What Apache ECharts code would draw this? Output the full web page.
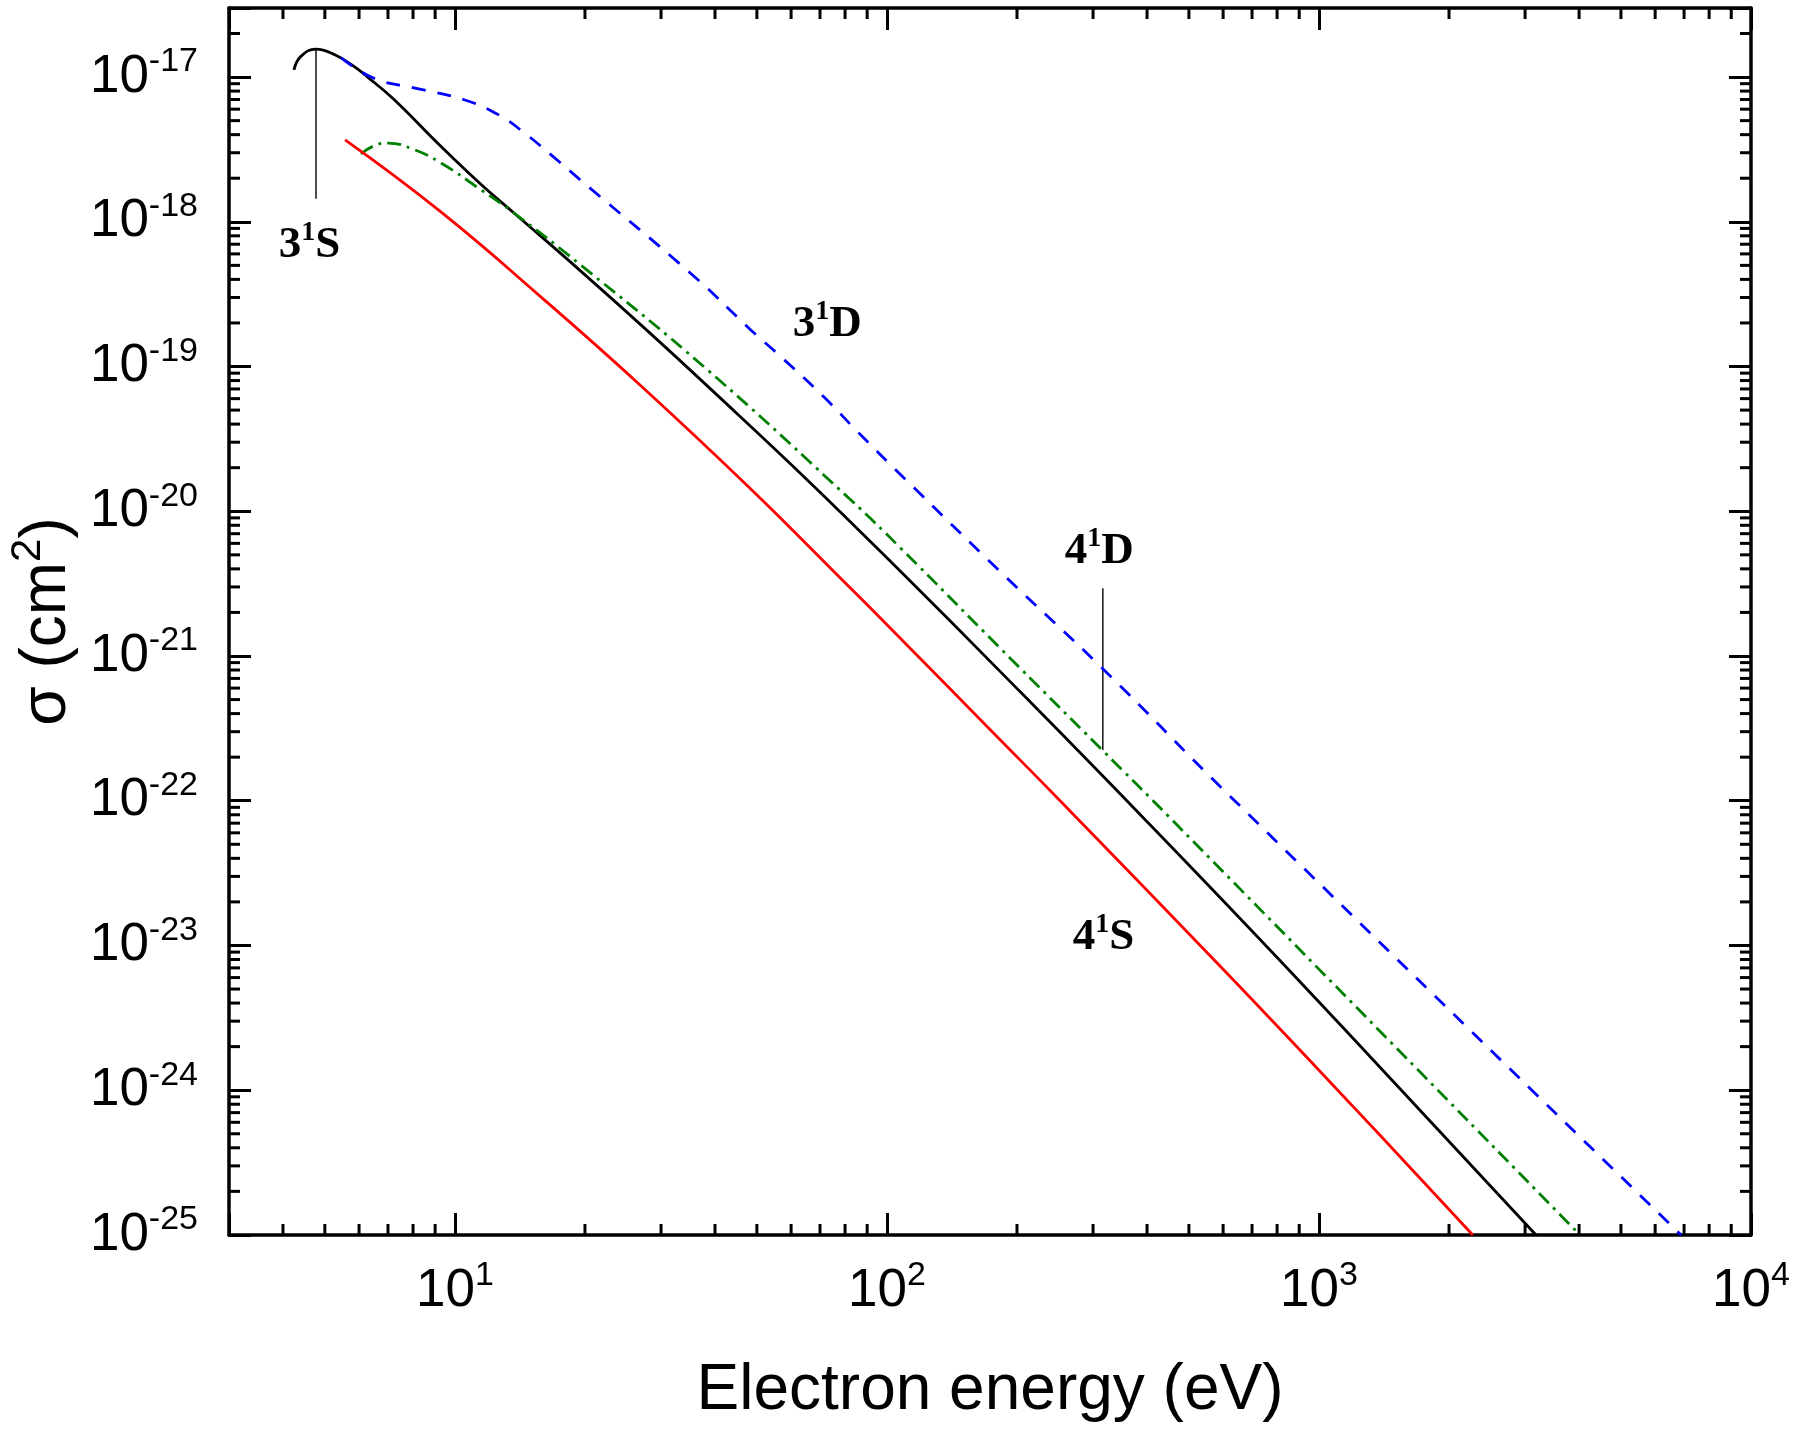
<!DOCTYPE html>
<html><head><meta charset="utf-8">
<script src="https://cdn.jsdelivr.net/npm/echarts@6/dist/echarts.min.js"></script>
<style>html,body{margin:0;padding:0;background:#fff}#c{width:1796px;height:1433px}</style>
</head><body><div id="c"></div>
<script>
// ---- axis ranges & ticks ----
const xRange = [3, 10000];
const yRange = [9.99e-26, 3e-17];
const xMinorMultipliers = [2, 3, 4, 5, 6, 7, 8, 9];
const xDecades = [0, 1, 2, 3];
const yDecades = [-25, -24, -23, -22, -21, -20, -19, -18, -17];

// ---- series data (electron energy in eV, cross section in cm^2) ----
const e31S = [4.24, 4.40, 4.77, 5.26, 5.85, 6.28, 7.24, 9.28, 11.5, 13.7, 19.5, 28, 39.1, 65.5, 107.6, 183, 393, 906, 3180];
const s31S = [1.12e-17, 1.39e-17, 1.56e-17, 1.43e-17, 1.18e-17, 1.0e-17, 6.97e-18, 3.32e-18, 1.81e-18, 1.15e-18, 4.6e-19, 1.75e-19, 6.98e-20, 1.64e-20, 3.83e-21, 7.8e-22, 7.57e-23, 5.57e-24, 1e-25];

const e31D = [5.45, 6.5, 8.04, 10.5, 12.6, 14.5, 16.7, 19.5, 35.8, 48.4, 56.8, 71.4, 85.4, 107.6, 188, 315, 612, 6890];
const s31D = [1.36e-17, 9.8e-18, 8.43e-18, 6.97e-18, 5.5e-18, 4.1e-18, 2.9e-18, 1.95e-18, 4.19e-19, 1.79e-19, 1.17e-19, 6.18e-20, 3.56e-20, 1.79e-20, 3.54e-21, 8.24e-22, 1.13e-22, 1e-25];

const e41D = [6.06, 6.5, 7.0, 8.05, 9.28, 11.5, 13.7, 19.5, 38.4, 82.4, 107.6, 183, 315, 453, 4020];
const s41D = [2.95e-18, 3.35e-18, 3.5e-18, 3.15e-18, 2.55e-18, 1.66e-18, 1.15e-18, 5.06e-19, 9.5e-20, 1.2e-20, 5.56e-21, 1.13e-21, 2.24e-22, 7.57e-23, 1e-25];

const e41S = [5.57, 9.28, 16.1, 26.9, 48.0, 82.4, 91.7, 183, 250, 600, 1200, 2270];
const s41S = [3.68e-18, 1.17e-18, 2.89e-19, 7.4e-20, 1.46e-20, 2.94e-21, 2.14e-21, 2.63e-22, 1.02e-22, 6.84e-24, 7.7e-25, 1e-25];

// ---- annotations ----
const annotLabels = [
  {base: '3', sup: '1', tail: 'S', E: 4.61, s: 6.82e-19},
  {base: '3', sup: '1', tail: 'D', E: 72.8, s: 1.95e-19},
  {base: '4', sup: '1', tail: 'D', E: 310, s: 5.27e-21},
  {base: '4', sup: '1', tail: 'S', E: 317, s: 1.13e-23}
];
const leaderE = [4.77, 316];
const leaderTop = [1.56e-17, 2.94e-21];
const leaderBottom = [1.44e-18, 2.24e-22];

// ---- build ----
const zip = (a, b) => a.map((v, i) => [v, b[i]]);
const minorData = [];
xDecades.forEach(d => xMinorMultipliers.forEach(m => {
  const v = m * Math.pow(10, d);
  if (v > xRange[0] && v < xRange[1]) minorData.push([v, yRange[0], 0]);
}));
yDecades.forEach(d => xMinorMultipliers.forEach(m => {
  const v = m * Math.pow(10, d);
  if (v > 1.0001e-25 && v < yRange[1] * 0.9999) minorData.push([xRange[0], v, 1]);
}));

const SANS = 'Liberation Sans, Arial, sans-serif';
const SERIF = 'Liberation Serif, Times New Roman, serif';

function powLabel(v) {
  const lg = Math.log10(v);
  const r = Math.round(lg);
  if (Math.abs(lg - r) > 1e-6) return '';
  return '{m|10}{s|' + r + '}';
}
const tickRich = {
  m: {fontFamily: SANS, fontSize: 53, lineHeight: 64, verticalAlign: 'middle', color: '#000'},
  s: {fontFamily: SANS, fontSize: 34, lineHeight: 34, verticalAlign: 'top', color: '#000'}
};

const axisLine = {show: true, onZero: false, lineStyle: {color: '#000', width: 3.5}};
const axisTick = {show: true, inside: true, length: 22, lineStyle: {color: '#000', width: 3}};

function xAxisDef(pos, showLabel) {
  return {
    type: 'log', logBase: 10, min: xRange[0], max: xRange[1], position: pos,
    axisLine, axisTick, splitLine: {show: false}, minorTick: {show: false},
    axisLabel: {show: showLabel, formatter: powLabel, rich: tickRich, margin: 24, showMinLabel: true, showMaxLabel: true, hideOverlap: false},
    name: showLabel ? 'Electron energy (eV)' : '', nameLocation: 'middle', nameGap: 124, nameMoveOverlap: false,
    nameTextStyle: {fontFamily: SANS, fontSize: 64, color: '#000'}
  };
}
function yAxisDef(pos, showLabel) {
  return {
    type: 'log', logBase: 10, min: yRange[0], max: yRange[1], position: pos,
    axisLine, axisTick, splitLine: {show: false}, minorTick: {show: false},
    axisLabel: {show: showLabel, formatter: powLabel, rich: tickRich, margin: 31, showMinLabel: true, showMaxLabel: true, hideOverlap: false},
    name: showLabel ? '{a|σ (cm}{b|2}{a|)}' : '', nameLocation: 'middle', nameGap: 142, nameMoveOverlap: false,
    nameTextStyle: {
      color: '#000',
      rich: {
        a: {fontFamily: SANS, fontSize: 64, lineHeight: 80, verticalAlign: 'middle', color: '#000'},
        b: {fontFamily: SANS, fontSize: 42, lineHeight: 42, verticalAlign: 'top', color: '#000'}
      }
    }
  };
}

function renderMinor(params, api) {
  const kind = api.value(2);
  const len = 11;
  const st = {stroke: '#000', lineWidth: 3};
  if (kind === 0) {
    const v = api.value(0);
    const pb = api.coord([v, yRange[0]]);
    const pt = api.coord([v, yRange[1]]);
    return {type: 'group', children: [
      {type: 'line', shape: {x1: pb[0], y1: pb[1], x2: pb[0], y2: pb[1] - len}, style: st},
      {type: 'line', shape: {x1: pt[0], y1: pt[1], x2: pt[0], y2: pt[1] + len}, style: st}
    ]};
  } else {
    const v = api.value(1);
    const pl = api.coord([xRange[0], v]);
    const pr = api.coord([xRange[1], v]);
    return {type: 'group', children: [
      {type: 'line', shape: {x1: pl[0], y1: pl[1], x2: pl[0] + len, y2: pl[1]}, style: st},
      {type: 'line', shape: {x1: pr[0], y1: pr[1], x2: pr[0] - len, y2: pr[1]}, style: st}
    ]};
  }
}

const annotRich = {
  b: {fontFamily: SERIF, fontWeight: 'bold', fontSize: 45, lineHeight: 54, verticalAlign: 'middle', color: '#000'},
  s: {fontFamily: SERIF, fontWeight: 'bold', fontSize: 28, lineHeight: 28, verticalAlign: 'top', color: '#000'}
};

const series = [
  {type: 'custom', name: 'minorTicks', xAxisIndex: 0, yAxisIndex: 0, data: minorData, renderItem: renderMinor, silent: true, z: 5},
  {type: 'line', name: '3¹S', data: zip(e31S, s31S), showSymbol: false, symbol: 'none', smooth: 0.45,
   lineStyle: {color: '#000000', width: 2.8, type: 'solid'}, z: 3},
  {type: 'line', name: '3¹D', data: zip(e31D, s31D), showSymbol: false, symbol: 'none', smooth: 0.45,
   lineStyle: {color: '#0000ff', width: 2.8, type: [14, 12]}, z: 3},
  {type: 'line', name: '4¹D', data: zip(e41D, s41D), showSymbol: false, symbol: 'none', smooth: 0.45,
   lineStyle: {color: '#008000', width: 2.8, type: [14, 6, 3, 6]}, z: 3},
  {type: 'line', name: '4¹S', data: zip(e41S, s41S), showSymbol: false, symbol: 'none', smooth: 0.45,
   lineStyle: {color: '#ff0000', width: 2.8, type: 'solid'}, z: 3}
];
leaderE.forEach((E, i) => {
  series.push({type: 'line', name: 'leader' + i, data: [[E, leaderTop[i]], [E, leaderBottom[i]]],
    showSymbol: false, symbol: 'none', lineStyle: {color: '#222', width: 1.6}, z: 2, silent: true});
});
series.push({
  type: 'scatter', name: 'labels', symbolSize: 1, itemStyle: {color: 'rgba(255,255,255,0)'}, silent: true, z: 6,
  data: annotLabels.map(a => ({value: [a.E, a.s], lab: a})),
  label: {show: true, position: 'inside', color: '#000', textBorderWidth: 0, opacity: 1,
    formatter: p => '{b|' + p.data.lab.base + '}{s|' + p.data.lab.sup + '}{b|' + p.data.lab.tail + '}',
    rich: annotRich}
});

const chart = echarts.init(document.getElementById('c'), null, {renderer: 'canvas'});
chart.setOption({
  animation: false,
  backgroundColor: '#fff',
  grid: {left: 229, right: 45, top: 8, bottom: 198, containLabel: false, outerBoundsMode: 'none'},
  xAxis: [xAxisDef('bottom', true), xAxisDef('top', false)],
  yAxis: [yAxisDef('left', true), yAxisDef('right', false)],
  series
});
</script></body></html>
